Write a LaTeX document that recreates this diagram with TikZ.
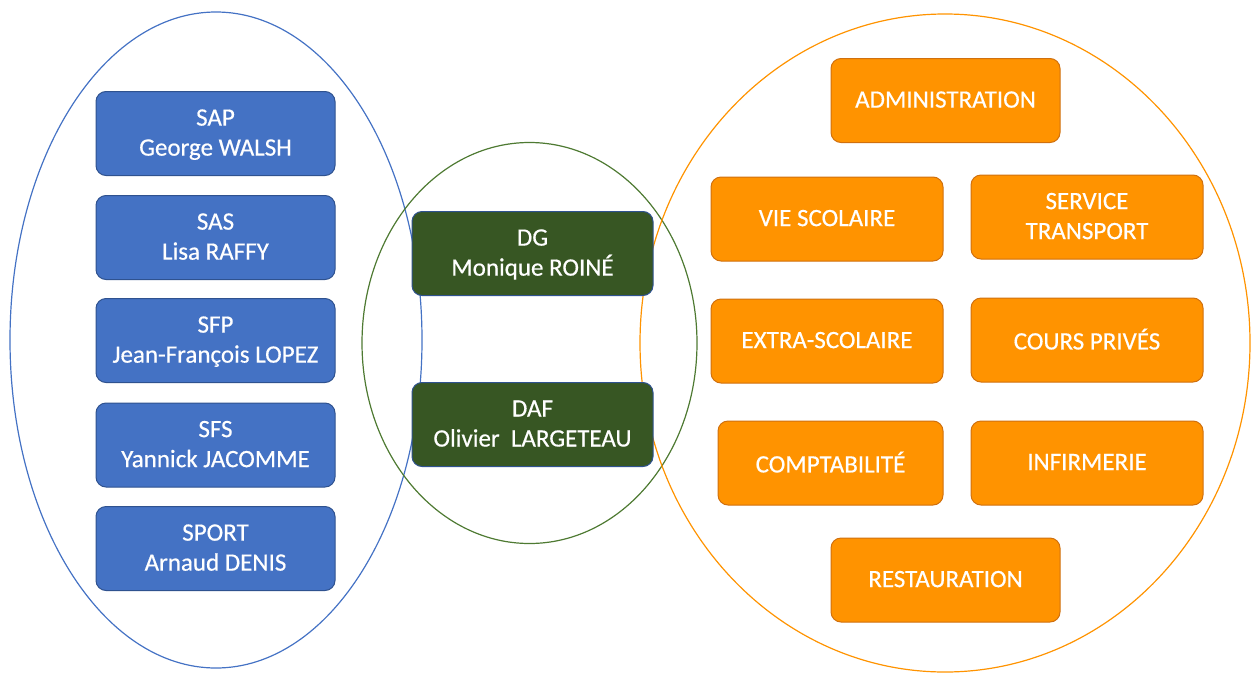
\documentclass[tikz,border=0pt]{standalone}
\usepackage{fontspec}
\setmainfont{Carlito}
\newfontfamily\boxfont{Carlito}[FakeBold=0.5]
\definecolor{PoleBlue}{HTML}{4472C4}
\definecolor{PoleBlueEdge}{HTML}{2F528F}
\definecolor{DirGreen}{HTML}{375623}
\definecolor{RingGreen}{HTML}{4E7A32}
\definecolor{ServOrange}{HTML}{FF9300}
\definecolor{ServOrangeEdge}{HTML}{D0700E}
\usetikzlibrary{positioning}
\tikzset{
  polebox/.style={rectangle, rounded corners=10pt, draw=PoleBlueEdge, line width=1pt, fill=PoleBlue, text=white, minimum width=239pt, minimum height=84pt, font=\boxfont\fontsize{25}{30}\selectfont, align=center, text depth=2pt},
  dirbox/.style={polebox, fill=DirGreen, minimum width=241pt},
  servbox/.style={polebox, draw=ServOrangeEdge, fill=ServOrange, minimum width=232pt},
  ring/.style={line width=1.2pt}
}
\begin{document}
\begin{tikzpicture}[x=1pt, y=-1pt]
  \useasboundingbox (0,0) rectangle (1252,672);

  \draw[ring, PoleBlue] (216,340) ellipse [x radius=206pt, y radius=328pt];
  \draw[ring, RingGreen] (529.5,343) ellipse [x radius=167.5pt, y radius=200.5pt];
  \draw[ring, ServOrange] (945,343) ellipse [x radius=305pt, y radius=329pt];

  \node[polebox] (sap) at (215.5,133.5) {SAP\\George WALSH};
  \node[polebox] (sas) at (215.5,237.5) {SAS\\Lisa RAFFY};
  \node[polebox] (sfp) at (215.5,340.5) {SFP\\Jean-François LOPEZ};
  \node[polebox] (sfs) at (215.5,445) {SFS\\Yannick JACOMME};
  \node[polebox] (sport) at (215.5,548.5) {SPORT\\Arnaud DENIS};

  \node[dirbox] (dg) at (532.5,253.5) {DG\\Monique ROINÉ};
  \node[dirbox] (daf) at (532.5,424.5) {DAF\\Olivier\ \ LARGETEAU};

  \node[servbox, minimum width=229pt] (admin) at (945.5,100.5) {ADMINISTRATION};
  \node[servbox] (viesco) at (827,219) {VIE SCOLAIRE};
  \node[servbox] (transport) at (1087,217) {SERVICE\\TRANSPORT};
  \node[servbox] (extrasco) at (827,341) {EXTRA-SCOLAIRE};
  \node[servbox] (cours) at (1087,340) {COURS PRIVÉS};
  \node[servbox, minimum width=225pt] (compta) at (830.5,463) {COMPTABILITÉ};
  \node[servbox] (infirm) at (1087,463) {INFIRMERIE};
  \node[servbox, minimum width=229pt] (resto) at (945.5,580) {RESTAURATION};
\end{tikzpicture}
\end{document}
